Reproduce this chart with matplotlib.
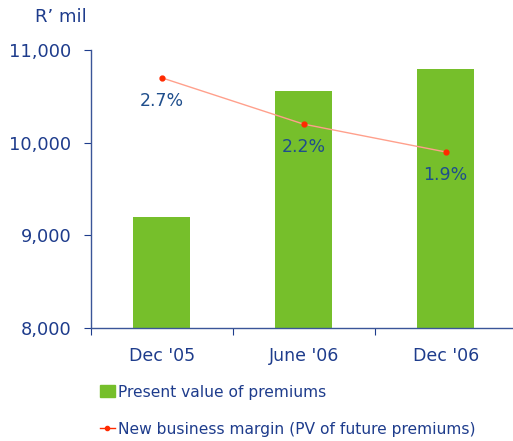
import matplotlib.pyplot as plt
from matplotlib.patches import Patch
from matplotlib.lines import Line2D

periods = ["Dec '05", "June '06", "Dec '06"]
premiums = [9200, 10560, 10800]          # R' mil
margin = [2.7, 2.2, 1.9]                 # %

blue = '#1e3c8c'
green = '#76bf2b'

plt.rcParams['font.family'] = 'DejaVu Sans'

fig = plt.figure(figsize=(5.13, 4.41), dpi=100)
ax = fig.add_axes([0.177, 0.2562, 0.830, 0.6304])

x = range(len(periods))
ax.bar(x, premiums, width=0.4, color=green, zorder=2)
ax.set_xlim(-0.5, 2.5)
ax.set_ylim(8000, 11000)
ax.set_yticks([8000, 9000, 10000, 11000])
ax.set_yticklabels(['{:,}'.format(v) for v in [8000, 9000, 10000, 11000]])

# category boundaries carry the tick marks, names sit between them
ax.set_xticks([-0.5, 0.5, 1.5, 2.5])
ax.set_xticklabels([])
ax.set_xticks(list(x), minor=True)
ax.set_xticklabels(periods, minor=True)
ax.tick_params(axis='x', which='minor', length=0, pad=14, labelsize=12.5, labelcolor=blue)
ax.tick_params(axis='x', which='major', length=5, color=blue, direction='out')
ax.tick_params(axis='y', length=5, color=blue, pad=9, labelsize=12.8, labelcolor=blue)

for s in ['top', 'right']:
    ax.spines[s].set_visible(False)
for s in ['left', 'bottom']:
    ax.spines[s].set_color('#3a5598')
    ax.spines[s].set_linewidth(1.0)

# margin on a hidden secondary scale (0-3%)
ax2 = ax.twinx()
ax2.set_ylim(0, 3)
ax2.axis('off')
ax2.plot(x, margin, color='#ffa08c', lw=1.0, marker='o', ms=3.5,
         mfc='#ff2a00', mec='#ff2a00', zorder=3)
for i, m in enumerate(margin):
    ax2.annotate('{:.1f}%'.format(m), (i, m), xytext=(0, -23), textcoords='offset pixels',
                 ha='center', va='center', color='#1f4e8c', fontsize=12.5)

fig.text(0.068, 0.962, 'R\u2019 mil', color=blue, fontsize=13, ha='left', va='center')

handles = [Patch(color=green),
           Line2D([], [], color='#ff2a00', lw=1, marker='o', ms=3)]
labels = ['Present value of premiums', 'New business margin (PV of future premiums)']
leg = fig.legend(handles, labels, loc='upper left',
                 frameon=False, fontsize=11.2, labelcolor=blue, handlelength=0.95,
                 handleheight=0.8, handletextpad=0.2, labelspacing=1.45,
                 borderpad=0, borderaxespad=0)
leg.set_bbox_to_anchor((0.195, 0.128), transform=fig.transFigure)

fig.savefig('out.png', dpi=100)
